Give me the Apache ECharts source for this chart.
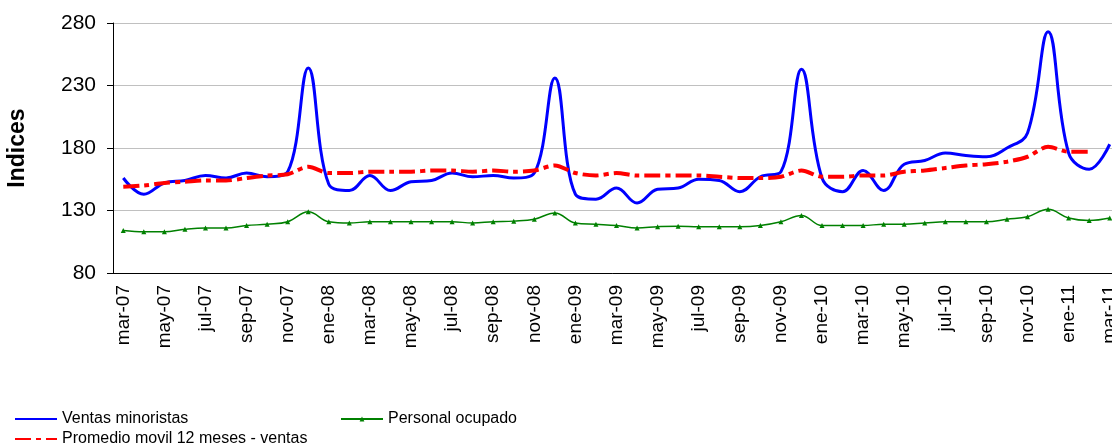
<!DOCTYPE html>
<html>
<head>
<meta charset="utf-8">
<script src="https://cdn.jsdelivr.net/npm/echarts@6/dist/echarts.min.js"></script>
<style>
  html, body { margin: 0; padding: 0; background: #fff; }
  #chart { width: 1112px; height: 445px; }
</style>
</head>
<body>
<div id="chart"></div>
<script>
// meses de mar-07 a mar-11
const months = [
  'mar-07', 'abr-07', 'may-07', 'jun-07', 'jul-07', 'ago-07', 'sep-07', 'oct-07', 'nov-07', 'dic-07',
  'ene-08', 'feb-08', 'mar-08', 'abr-08', 'may-08', 'jun-08', 'jul-08', 'ago-08', 'sep-08', 'oct-08', 'nov-08', 'dic-08',
  'ene-09', 'feb-09', 'mar-09', 'abr-09', 'may-09', 'jun-09', 'jul-09', 'ago-09', 'sep-09', 'oct-09', 'nov-09', 'dic-09',
  'ene-10', 'feb-10', 'mar-10', 'abr-10', 'may-10', 'jun-10', 'jul-10', 'ago-10', 'sep-10', 'oct-10', 'nov-10', 'dic-10',
  'ene-11', 'feb-11', 'mar-11'
];

const ventas = [
  156, 143, 152, 154, 158, 156, 160, 157, 161, 244,
  151, 146, 158, 146, 153, 154, 160, 157, 158, 156, 160, 236,
  143, 139, 148, 136, 147, 148, 155, 154, 145, 157, 161, 243,
  156, 145, 162, 146, 167, 170, 176, 174, 173, 180, 192, 273,
  176, 163, 183
];

const promedio = [
  149, 150, 152, 153, 154, 154, 156, 158, 159, 165,
  160, 160, 161, 161, 161, 162, 162, 161, 162, 161, 162, 166,
  160, 158, 160, 158, 158, 158, 158, 157, 156, 156, 157, 162,
  157, 157, 158, 158, 161, 162, 164, 166, 167, 169, 173, 181,
  177, 177, null
];

const personal = [
  114, 113, 113, 115, 116, 116, 118, 119, 121, 129,
  121, 120, 121, 121, 121, 121, 121, 120, 121, 121.5, 123, 128,
  120, 119, 118, 116, 117, 117.5, 117, 117, 117, 118, 121, 126,
  118, 118, 118, 119, 119, 120, 121, 121, 121, 123, 125, 131,
  124, 122, 124
];

const yTicks = { min: 80, max: 280, step: 50 };

const font = 'Liberation Sans, Arial, sans-serif';

const chart = echarts.init(document.getElementById('chart'));

const legendText = { fontFamily: font, fontSize: 16, color: '#000' };

const option = {
  animation: false,
  backgroundColor: '#fff',
  grid: { left: 113, top: 23, right: -8, bottom: 172, outerBoundsMode: 'none', containLabel: false },
  legend: [
    {
      data: ['Ventas minoristas'],
      left: 14, top: 411, padding: 0,
      itemWidth: 42, itemHeight: 8,
      itemStyle: { opacity: 0 },
      textStyle: legendText
    },
    {
      data: ['Personal ocupado'],
      left: 340, top: 411, padding: 0,
      itemWidth: 42, itemHeight: 6,
      textStyle: legendText
    },
    {
      data: ['Promedio movil 12 meses - ventas'],
      left: 14, top: 431, padding: 0,
      itemWidth: 42, itemHeight: 8,
      itemStyle: { opacity: 0 },
      textStyle: legendText
    }
  ],
  xAxis: {
    type: 'category',
    data: months,
    boundaryGap: true,
    axisLine: { lineStyle: { color: '#000', width: 1 } },
    axisTick: { interval: 1, length: 6, lineStyle: { color: '#000' } },
    axisLabel: {
      interval: 1,
      rotate: 90,
      margin: 12,
      fontFamily: font,
      fontSize: 19,
      color: '#000'
    },
    splitLine: { show: false }
  },
  yAxis: {
    type: 'value',
    min: yTicks.min,
    max: yTicks.max,
    interval: yTicks.step,
    name: 'Indices',
    nameLocation: 'middle',
    nameRotate: 90,
    nameGap: 84,
    nameTextStyle: { fontFamily: font, fontSize: 23, fontWeight: 'bold', color: '#000' },
    axisLine: { show: true, lineStyle: { color: '#000', width: 1 } },
    axisTick: { show: true, length: 6, lineStyle: { color: '#000' } },
    axisLabel: { margin: 17, fontFamily: font, fontSize: 21, color: '#000' },
    splitLine: { lineStyle: { color: '#c0c0c0', width: 1 } }
  },
  series: [
    {
      name: 'Ventas minoristas',
      type: 'line',
      data: ventas,
      smooth: 0.4,
      symbol: 'none',
      lineStyle: { color: '#0000ff', width: 3 },
      itemStyle: { color: '#0000ff' },
      z: 3
    },
    {
      name: 'Promedio movil 12 meses - ventas',
      type: 'line',
      data: promedio,
      smooth: 0.3,
      symbol: 'none',
      lineStyle: { color: '#ff0000', width: 4, type: [16, 5, 5, 5] },
      itemStyle: { color: '#ff0000' },
      z: 4
    },
    {
      name: 'Personal ocupado',
      type: 'line',
      data: personal,
      smooth: 0.4,
      symbol: 'triangle',
      symbolSize: 5,
      lineStyle: { color: '#008000', width: 1.5 },
      itemStyle: { color: '#008000' },
      z: 5
    }
  ]
};

chart.setOption(option);
</script>
</body>
</html>
